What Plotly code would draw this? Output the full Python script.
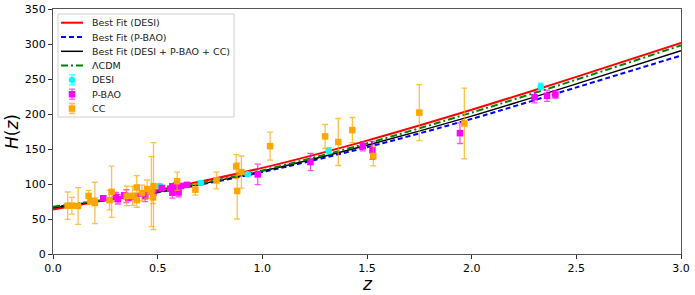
import plotly.graph_objects as go

# ---------------- data ----------------
z_fit = [0.0, 0.5, 1.0, 1.5, 2.0, 2.5, 3.0]
h_fit_desi = [63.5, 91.0, 123.0, 162.0, 206.0, 253.0, 301.5]
h_fit_pbao = [66.5, 88.0, 117.0, 152.5, 193.0, 238.0, 283.5]
h_fit_comb = [66.0, 88.5, 118.5, 155.5, 197.0, 243.0, 290.5]
h_fit_lcdm = [67.5, 89.0, 119.5, 158.0, 202.0, 249.0, 298.0]

z_desi = [0.51, 0.706, 0.93, 1.317, 2.33]
h_desi = [97.21, 101.57, 114.07, 147.58, 239.38]
e_desi = [2.83, 3.04, 2.24, 4.49, 4.80]

z_pbao = [0.24, 0.30, 0.31, 0.34, 0.35, 0.36, 0.38, 0.40, 0.43, 0.44, 0.44, 0.48,
          0.52, 0.56, 0.57, 0.57, 0.59, 0.60, 0.61, 0.64, 0.978, 1.23, 1.48, 1.526,
          1.944, 2.30, 2.36, 2.40]
h_pbao = [79.69, 81.7, 78.17, 83.8, 82.7, 79.93, 81.5, 82.04, 86.45, 82.6, 84.81, 87.79,
          94.35, 93.34, 87.6, 96.8, 98.48, 87.9, 97.3, 98.82, 113.72, 131.44, 153.81, 148.11,
          172.63, 224.0, 226.0, 227.8]
e_pbao = [2.99, 6.22, 6.74, 3.66, 9.1, 3.39, 1.9, 2.03, 3.68, 7.8, 1.83, 2.03,
          2.64, 2.3, 7.8, 3.4, 3.18, 6.1, 2.1, 2.99, 14.63, 12.42, 6.39, 12.75,
          14.79, 8.0, 8.0, 5.61]

z_cc = [0.07, 0.09, 0.12, 0.17, 0.179, 0.199, 0.20, 0.27, 0.28, 0.352, 0.3802, 0.40,
        0.4004, 0.4247, 0.4497, 0.47, 0.4783, 0.48, 0.593, 0.68, 0.781, 0.875, 0.88,
        0.90, 1.037, 1.30, 1.363, 1.43, 1.53, 1.75, 1.965]
h_cc = [69.0, 69.0, 68.6, 83.0, 75.0, 75.0, 72.9, 77.0, 88.8, 83.0, 83.0, 95.0,
        77.0, 87.1, 92.8, 89.0, 80.9, 97.0, 104.0, 92.0, 105.0, 125.0, 90.0,
        117.0, 154.0, 168.0, 160.0, 177.0, 140.0, 202.0, 186.5]
e_cc = [19.6, 12.0, 26.2, 8.0, 4.0, 5.0, 29.6, 14.0, 36.6, 14.0, 13.5, 17.0,
        10.2, 11.2, 12.9, 50.0, 9.0, 62.0, 13.0, 8.0, 12.0, 17.0, 40.0,
        23.0, 20.0, 17.0, 33.6, 18.0, 14.0, 40.0, 50.4]

legend_labels = ["Best Fit (DESI)", "Best Fit (P-BAO)", "Best Fit (DESI + P-BAO + CC)",
                 "ΛCDM", "DESI", "P-BAO", "CC"]

# ---------------- layout constants ----------------
W, H = 695, 295
L, R, T, B = 53, 14, 9, 41
PW, PH = W - L - R, H - T - B
FONT = "DejaVu Sans"


def px(x):
    return (x - L) / PW


def py(y):
    return (H - B - y) / PH


fig = go.Figure()

line_styles = [
    (h_fit_desi, "red", 2.0, "solid"),
    (h_fit_pbao, "blue", 2.0, "5px,3px"),
    (h_fit_comb, "black", 1.5, "solid"),
    (h_fit_lcdm, "green", 2.0, "7px,3px,2px,3px"),
]
for hv, col, w, dash in line_styles:
    fig.add_trace(go.Scatter(x=z_fit, y=hv, mode="lines", showlegend=False,
                             line=dict(color=col, width=w, dash=dash, shape="spline", smoothing=0.8),
                             hoverinfo="skip"))

pts = [
    (z_desi, h_desi, e_desi, "cyan", "rgba(0,255,255,0.75)", "circle", 6.5),
    (z_pbao, h_pbao, e_pbao, "magenta", "rgba(255,0,255,0.7)", "square", 6.5),
    (z_cc, h_cc, e_cc, "orange", "rgba(255,165,0,0.7)", "square", 6.5),
]
for zz, hh, ee, col, ecol, sym, sz in pts:
    fig.add_trace(go.Scatter(x=zz, y=hh, mode="markers", showlegend=False,
                             marker=dict(color=col, symbol=sym, size=sz),
                             error_y=dict(type="data", array=ee, visible=True,
                                          color=ecol, thickness=1.3, width=3)))

# ---------------- manual legend ----------------
shapes = []
shapes.append(dict(type="rect", xref="paper", yref="paper", layer="below",
                   x0=px(58), x1=px(234), y0=py(117), y1=py(14),
                   line=dict(color="#d0d0d0", width=1), fillcolor="white"))
rows = [22.7 + 14.3 * i for i in range(7)]
for i, (hv, col, w, dash) in enumerate(line_styles):
    shapes.append(dict(type="line", xref="paper", yref="paper", layer="above",
                       x0=px(61), x1=px(83), y0=py(rows[i]), y1=py(rows[i]),
                       line=dict(color=col, width=w, dash=dash)))
for j, (zz, hh, ee, col, ecol, sym, sz) in enumerate(pts):
    fig.add_trace(go.Scatter(x=[px(72)], y=[py(rows[4 + j])], xaxis="x2", yaxis="y2",
                             mode="markers", showlegend=False, hoverinfo="skip",
                             marker=dict(color=col, symbol=sym, size=sz),
                             error_y=dict(type="constant", value=5.0 / PH, visible=True,
                                          color=ecol, thickness=1.3, width=3)))
annotations = []
for i, lab in enumerate(legend_labels):
    annotations.append(dict(text=lab, xref="paper", yref="paper", x=px(90), y=py(rows[i]),
                            xanchor="left", yanchor="middle", showarrow=False,
                            font=dict(family=FONT, size=9.5, color="#222")))

annotations.append(dict(text="<i>H</i>(<i>z</i>)", xref="paper", yref="paper",
                        x=px(12), y=py(132), textangle=-90, showarrow=False,
                        xanchor="center", yanchor="middle",
                        font=dict(family=FONT, size=17, color="black")))
annotations.append(dict(text="<i>z</i>", xref="paper", yref="paper",
                        x=px(367), y=py(284), showarrow=False,
                        xanchor="center", yanchor="middle",
                        font=dict(family=FONT, size=17, color="black")))

axis_common = dict(showgrid=False, zeroline=False, showline=True, linecolor="#555",
                   linewidth=1, mirror=True, ticks="outside", ticklen=4, tickwidth=1,
                   tickcolor="#333", automargin=False,
                   tickfont=dict(family=FONT, size=11, color="black"))

fig.update_layout(
    width=W, height=H, autosize=False,
    margin=dict(l=L, r=R, t=T, b=B, pad=0, autoexpand=False),
    paper_bgcolor="white", plot_bgcolor="white",
    showlegend=False,
    xaxis=dict(range=[0, 3], tickvals=[0, 0.5, 1.0, 1.5, 2.0, 2.5, 3.0],
               tickformat=".1f", **axis_common),
    yaxis=dict(range=[0, 350], tickvals=[0, 50, 100, 150, 200, 250, 300, 350], **axis_common),
    xaxis2=dict(range=[0, 1], overlaying="x", visible=False, fixedrange=True),
    yaxis2=dict(range=[0, 1], overlaying="y", visible=False, fixedrange=True),
    shapes=shapes,
    annotations=annotations,
)

fig.write_html("out.html", config={"displayModeBar": False},
               post_script="document.body.style.margin='0';document.body.style.padding='0';"
                           "document.body.style.overflow='hidden';")
